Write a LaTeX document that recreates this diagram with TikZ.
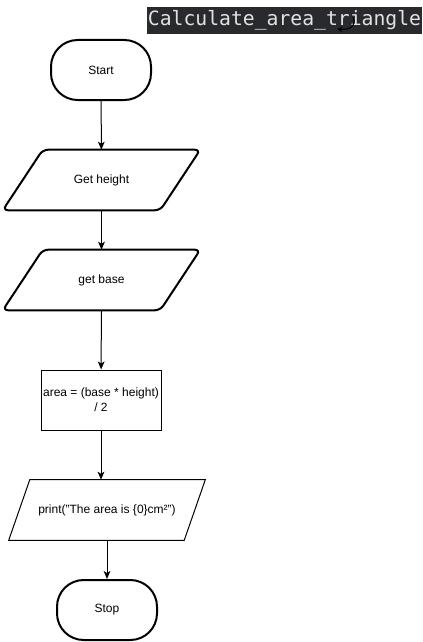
\documentclass[tikz,border=0pt]{standalone}
\usepackage{fontspec}
\setmainfont{Liberation Sans}
\newfontfamily\codefont{DejaVu Sans Mono}
\usetikzlibrary{arrows.meta}
\definecolor{titlebg}{RGB}{40,42,46}
\definecolor{titlefg}{RGB}{226,226,226}

\begin{document}
\begin{tikzpicture}[x=0.75pt, y=-0.75pt, font=\fontsize{9}{11}\selectfont,
    every node/.style={inner sep=0pt},
    terminal/.style={draw, line width=1.5pt, rounded corners=20pt, minimum width=75pt, minimum height=45pt},
    io/.style={minimum width=117.75pt, minimum height=45pt},
    iobox/.style={line width=1.5pt, rounded corners=4pt},
    process/.style={draw, line width=0.75pt, minimum width=90pt, minimum height=45pt, align=center},
    output/.style={minimum width=131.25pt, minimum height=45pt},
    outbox/.style={line width=0.75pt},
    flow/.style={-{Stealth[length=6pt,width=5pt,inset=1.5pt]}, line width=0.75pt}]
    \useasboundingbox (0,0) rectangle (422,642);
    \node[fill=titlebg, text=titlefg, font=\codefont\fontsize{14.8}{16}\selectfont, minimum width=206.25pt, minimum height=20.25pt] (title) at (284.5,20.5) {Calculate\_area\_triangle};
    \coordinate (loopa) at (353,17);
    \coordinate (loopb) at (337,29);
    \draw[-{Stealth[length=4pt,width=4pt]}, line width=0.75pt] (loopa) .. controls (357,27) and (348,30) .. (loopb);

    \node[terminal] (start) at (101,70) {Start};
    \node[io] (height) at (101.5,180) {Get height};
    \node[io] (base) at (101.5,280) {get base};
    \node[process] (area) at (101,400) {area = (base * height)\\/ 2};
    \node[output] (print) at (107,510) {print("The area is \{0\}cm²")};
    \node[terminal] (stop) at (107,610) {Stop};

    \foreach \n in {height,base}
        \draw[iobox] ([xshift=15pt]\n.north west) -- ([xshift=15pt]\n.north east) -- ([xshift=-15pt]\n.south east) -- ([xshift=-15pt]\n.south west) -- cycle;
    \draw[outbox] ([xshift=7.9pt]print.north west) -- ([xshift=7.9pt]print.north east) -- ([xshift=-7.9pt]print.south east) -- ([xshift=-7.9pt]print.south west) -- cycle;

    \draw[flow] (start) -- (height);
    \draw[flow] (height) -- (base);
    \draw[flow] (base) -- (area);
    \draw[flow] (area) -- (area.south |- print.north);
    \draw[flow] (print) -- (stop);
\end{tikzpicture}
\end{document}
